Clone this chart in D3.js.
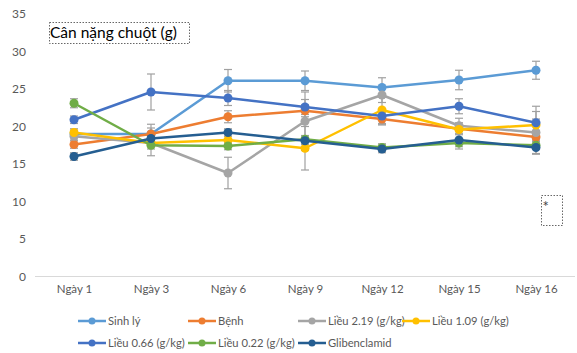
<!DOCTYPE html>
<html><head><meta charset="utf-8">
<script src="https://cdn.jsdelivr.net/npm/d3@7"></script>
<style>body{margin:0;background:#fff}svg{display:block}</style>
</head><body>
<script>
const categories = ["Ngày 1","Ngày 3","Ngày 6","Ngày 9","Ngày 12","Ngày 15","Ngày 16"];
const seriesNames = ["Sinh lý","Bệnh","Liều 2.19 (g/kg)","Liều 1.09 (g/kg)","Liều 0.66 (g/kg)","Liều 0.22 (g/kg)","Glibenclamid"];
const sinhLy   = [19.0, 19.0, 26.1, 26.1, 25.2, 26.2, 27.5];
const benh     = [17.6, 19.0, 21.3, 22.1, 21.0, 19.7, 18.6];
const lieu219  = [18.7, 17.8, 13.8, 20.7, 24.2, 20.1, 19.2];
const lieu109  = [19.2, 17.8, 18.2, 17.1, 22.2, 19.6, 20.2];
const lieu066  = [20.9, 24.6, 23.8, 22.6, 21.4, 22.7, 20.5];
const lieu022  = [23.1, 17.5, 17.4, 18.3, 17.2, 17.8, 17.5];
const gliben   = [16.0, 18.4, 19.2, 18.1, 17.0, 18.2, 17.2];
const errSinhLy  = [0.5, 1.3, 1.5, 1.3, 1.3, 1.3, 1.2];
const errBenh    = [0.5, 0.8, 0.8, 0.8, 0.8, 0.8, 0.8];
const errLieu219 = [0.5, 0.8, 2.1, 3.9, 1.0, 1.0, 2.8];
const errLieu109 = [0.5, 0.5, 0.5, 2.9, 1.9, 0.6, 0.8];
const errLieu066 = [0.5, 2.4, 1.0, 1.0, 1.0, 1.0, 2.2];
const errLieu022 = [0.6, 1.4, 0.5, 0.5, 0.5, 0.5, 0.5];
const errGliben  = [0.5, 0.5, 0.5, 0.5, 0.5, 1.2, 0.9];
const yTicks = [0,5,10,15,20,25,30,35];
const colors = ["#5B9BD5","#ED7D31","#A5A5A5","#FFC000","#4472C4","#70AD47","#255E91"];

const values = [sinhLy, benh, lieu219, lieu109, lieu066, lieu022, gliben];
const errs = [errSinhLy, errBenh, errLieu219, errLieu109, errLieu066, errLieu022, errGliben];

const W = 577, H = 353;
const svg = d3.select("body").append("svg").attr("width", W).attr("height", H)
  .style("font-family", "Lato, 'Open Sans', sans-serif");

const x = d3.scalePoint().domain(categories).range([74, 536]);
const y = d3.scaleLinear().domain([0, 35]).range([276.5, 14]);

// baseline
svg.append("line").attr("x1", 35).attr("x2", 575).attr("y1", y(0)).attr("y2", y(0))
  .attr("stroke", "#d9d9d9").attr("stroke-width", 1);

// y axis labels
const yAxis = d3.axisLeft(y).tickValues(yTicks).tickSize(0).tickPadding(0);
const gy = svg.append("g").attr("transform", "translate(26,0)").call(yAxis);
gy.select(".domain").remove();
gy.selectAll("text").attr("fill", "#595959").style("font-size", "12px").style("font-family", "Lato, sans-serif");

// x axis labels
const xAxis = d3.axisBottom(x).tickSize(0).tickPadding(0);
const gx = svg.append("g").attr("transform", "translate(0,285)").call(xAxis);
gx.select(".domain").remove();
gx.selectAll("text").attr("fill", "#595959").style("font-size", "11.5px").style("font-family", "Lato, sans-serif");

// error bars
const eb = svg.append("g").attr("stroke", "#a0a0a0").attr("stroke-width", 1.2);
values.forEach((vals, si) => {
  vals.forEach((v, i) => {
    const cx = x(categories[i]);
    const e = errs[si][i];
    const top = y(v + e), bot = y(v - e);
    eb.append("line").attr("x1", cx).attr("x2", cx).attr("y1", top).attr("y2", bot);
    eb.append("line").attr("x1", cx - 4).attr("x2", cx + 4).attr("y1", top).attr("y2", top);
    eb.append("line").attr("x1", cx - 4).attr("x2", cx + 4).attr("y1", bot).attr("y2", bot);
  });
});

// lines and markers
const line = d3.line().x((d, i) => x(categories[i])).y(d => y(d));
values.forEach((vals, si) => {
  const g = svg.append("g");
  g.append("path").datum(vals).attr("d", line).attr("fill", "none")
    .attr("stroke", colors[si]).attr("stroke-width", 2.5).attr("stroke-linejoin", "round");
  g.selectAll("circle").data(vals).join("circle")
    .attr("cx", (d, i) => x(categories[i])).attr("cy", d => y(d)).attr("r", 4.5)
    .attr("fill", colors[si]);
});

// title box
svg.append("rect").attr("x", 49.5).attr("y", 22.5).attr("width", 140).attr("height", 21)
  .attr("fill", "none").attr("stroke", "#404040").attr("stroke-width", 0.8).attr("stroke-dasharray", "1.5,1.5");
svg.append("text").attr("x", 50).attr("y", 38).attr("fill", "#000")
  .style("font-size", "15.5px").text("Cân nặng chuột (g)");

// small box with asterisk
svg.append("rect").attr("x", 541.5).attr("y", 195.5).attr("width", 21).attr("height", 30)
  .attr("fill", "none").attr("stroke", "#404040").attr("stroke-width", 0.8).attr("stroke-dasharray", "1.5,1.5");
svg.append("text").attr("x", 542.5).attr("y", 212).attr("fill", "#404040")
  .style("font-size", "15px").text("*");

// legend
const legendPos = [[78,321],[188,321],[298,321],[402,321],[78,343],[188,343],[298,343]];
seriesNames.forEach((name, si) => {
  const [lx, ly] = legendPos[si];
  const g = svg.append("g");
  g.append("line").attr("x1", lx).attr("x2", lx + 28).attr("y1", ly).attr("y2", ly)
    .attr("stroke", colors[si]).attr("stroke-width", 2.5);
  g.append("circle").attr("cx", lx + 14).attr("cy", ly).attr("r", 3.5).attr("fill", colors[si]);
  g.append("text").attr("x", lx + 30).attr("y", ly + 4).attr("fill", "#595959")
    .style("font-size", "11.2px").text(name);
});
</script>
</body></html>
